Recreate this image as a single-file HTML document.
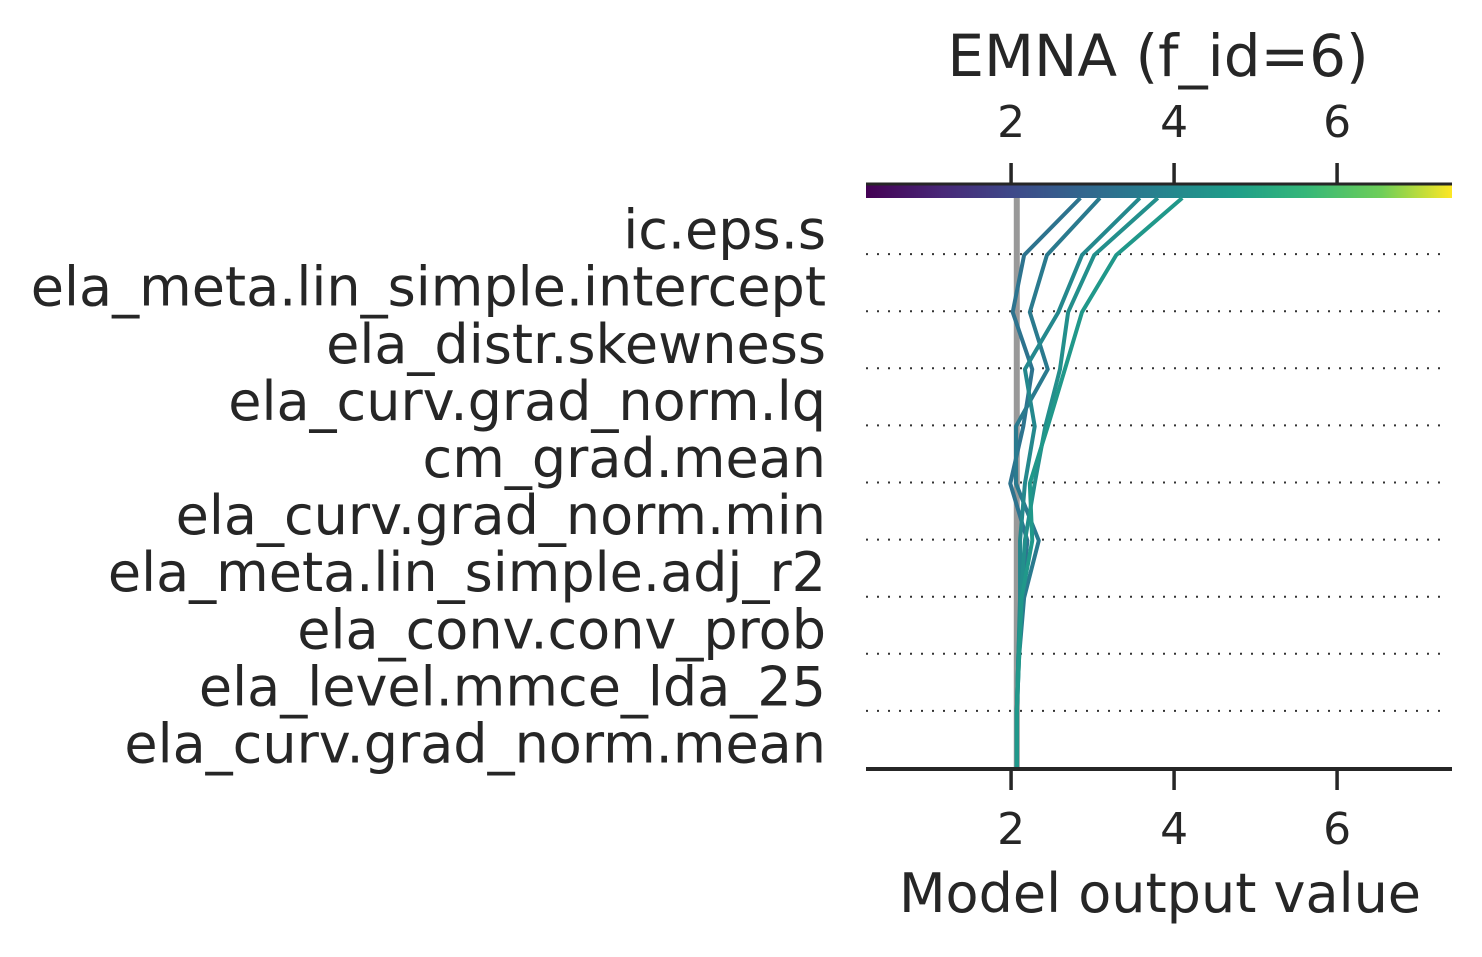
<!DOCTYPE html>
<html><head><meta charset="utf-8"><style>
body{margin:0;background:#fff;}
svg text{font-family:"DejaVu Sans","Liberation Sans",sans-serif;fill:#262626;}
</style></head><body>
<svg id="c" width="1482" height="952">
<defs><linearGradient id="vir" x1="0" x2="1" y1="0" y2="0">
<stop offset="0" stop-color="#440154"/><stop offset="0.13" stop-color="#482878"/><stop offset="0.25" stop-color="#3e4989"/><stop offset="0.38" stop-color="#31688e"/><stop offset="0.5" stop-color="#26828e"/><stop offset="0.63" stop-color="#1f9e89"/><stop offset="0.75" stop-color="#35b779"/><stop offset="0.88" stop-color="#6ece58"/><stop offset="1" stop-color="#fde725"/>
</linearGradient></defs>
</svg>
<script>
const features=["ic.eps.s","ela_meta.lin_simple.intercept","ela_distr.skewness","ela_curv.grad_norm.lq","cm_grad.mean","ela_curv.grad_norm.min","ela_meta.lin_simple.adj_r2","ela_conv.conv_prob","ela_level.mmce_lda_25","ela_curv.grad_norm.mean"];
const baseValue=2.07;
const xTicks=[2,4,6];
// cumulative outputs, top (final) to bottom, excluding base
const lineA=[2.85,2.16,2.02,2.26,2.15,1.99,2.20,2.13,2.09,2.07];
const lineB=[3.09,2.44,2.23,2.45,2.06,2.06,2.34,2.16,2.10,2.07];
const lineC=[3.58,2.87,2.58,2.17,2.29,2.17,2.11,2.11,2.09,2.07];
const lineD=[3.80,3.02,2.70,2.60,2.42,2.29,2.17,2.12,2.09,2.07];
const lineE=[4.10,3.29,2.87,2.66,2.45,2.23,2.26,2.13,2.10,2.07];
const series=[lineA,lineB,lineC,lineD,lineE];
const svg=document.getElementById('c');
const NS='http://www.w3.org/2000/svg';
const xmin=0.22,xmax=7.41,L=866,R=1452;
const X=v=>L+(v-xmin)/(xmax-xmin)*(R-L);
const Y=i=>198+i*(769-198)/(features.length+0);
function mk(t,a,p){const e=document.createElementNS(NS,t);for(const k in a)e.setAttribute(k,a[k]);(p||svg).appendChild(e);return e;}
const stops=[[68,1,84],[72,40,120],[62,73,137],[49,104,142],[38,130,142],[31,158,137],[53,183,121],[110,206,88],[253,231,37]];
function vir(t){t=Math.max(0,Math.min(1,t))*8;const i=Math.min(7,Math.floor(t)),f=t-i;const a=stops[i],b=stops[i+1];return `rgb(${a.map((c,k)=>Math.round(c+(b[k]-c)*f)).join(',')})`;}
// dotted gridlines
for(let i=1;i<features.length;i++){const g=mk('line',{x1:L,x2:1446,y1:Y(i)-1,y2:Y(i)-1,stroke:'#333','stroke-width':2,'stroke-dasharray':'2 9'});

}
// feature labels
features.forEach((f,i)=>{const t=mk('text',{x:826,y:(Y(i)+Y(i+1))/2+22,'text-anchor':'end','font-size':54});t.textContent=f;

});
// base line
const bl=mk('line',{x1:X(baseValue),x2:X(baseValue),y1:198,y2:769,stroke:'#999','stroke-width':6});


// colorbar
const cb=mk('rect',{x:L,y:184,width:R-L,height:14,fill:'url(#vir)'});


// series
series.forEach((s,k)=>{const pts=s.map((v,i)=>X(v)+','+Y(i)).join(' ')+' '+X(baseValue)+','+769;
const p=mk('polyline',{points:pts,fill:'none',stroke:vir((s[0]-xmin)/(xmax-xmin)+0.06),'stroke-width':4,'stroke-linejoin':'round'});

});
// axes
const ta=mk('line',{x1:L,x2:R,y1:184,y2:184,stroke:'#262626','stroke-width':3});


const ba=mk('line',{x1:L,x2:R,y1:769,y2:769,stroke:'#262626','stroke-width':4});


xTicks.forEach(v=>{
const a=mk('line',{x1:X(v),x2:X(v),y1:163,y2:184,stroke:'#262626','stroke-width':3.5});


const b=mk('line',{x1:X(v),x2:X(v),y1:769,y2:790,stroke:'#262626','stroke-width':3.5});


const t1=mk('text',{x:X(v),y:137,'text-anchor':'middle','font-size':44});t1.textContent=v;


const t2=mk('text',{x:X(v),y:844,'text-anchor':'middle','font-size':44});t2.textContent=v;

});
const ti=mk('text',{x:1158,y:76,'text-anchor':'middle','font-size':58});ti.textContent='EMNA (f_id=6)';


const xl=mk('text',{x:1160,y:912,'text-anchor':'middle','font-size':54});xl.textContent='Model output value';


</script>
</body></html>
